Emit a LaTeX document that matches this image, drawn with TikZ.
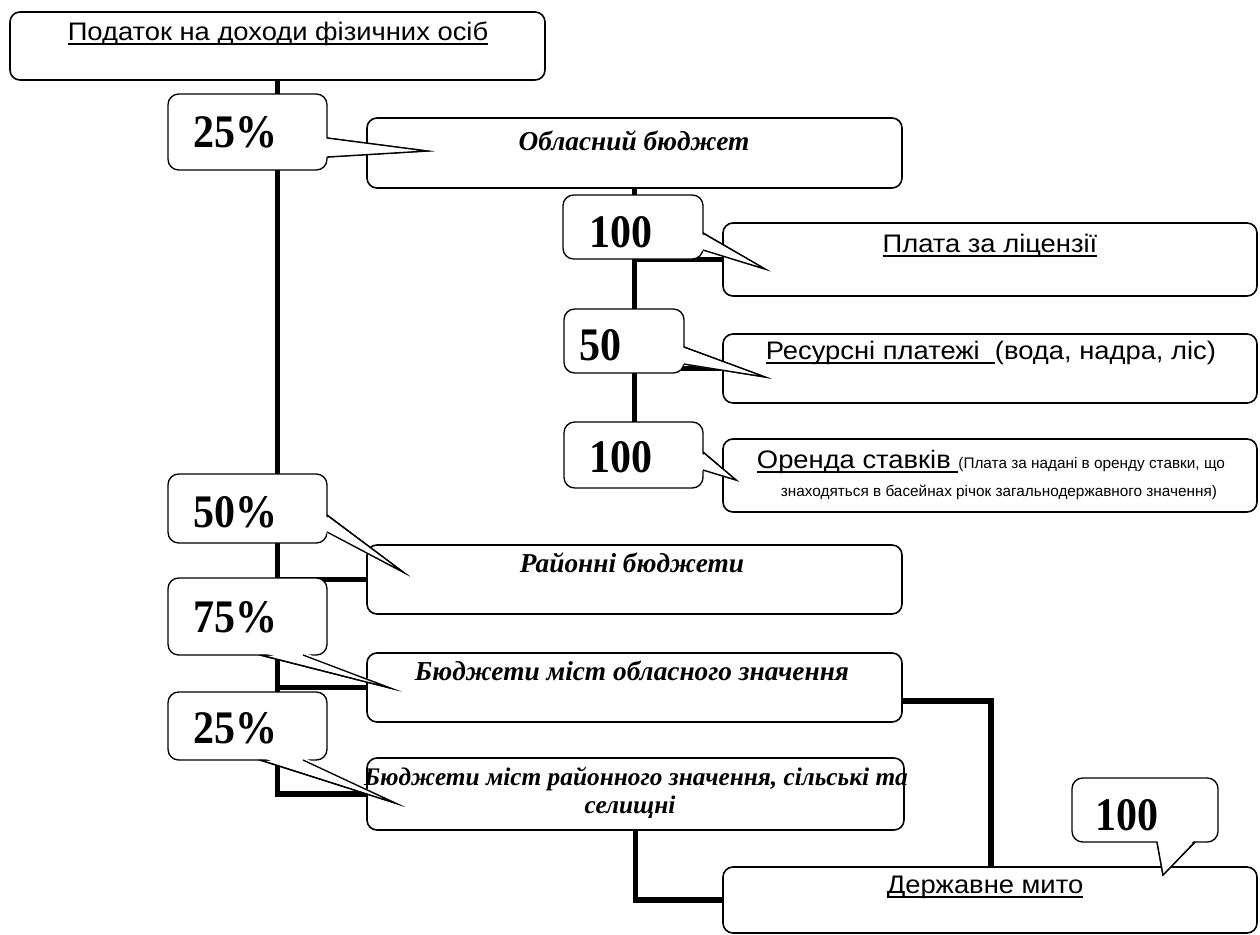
\documentclass[tikz,border=0pt]{standalone}
\usepackage{fontspec}
\setmainfont{Liberation Serif}
\setsansfont{Liberation Sans}
\newfontfamily\arialw{Liberation Sans}[FakeStretch=1.08]
\newfontfamily\numfont{Liberation Serif}[FakeStretch=0.9]
\usetikzlibrary{fit,calc}
\newcommand\myul[1]{\setbox0\hbox{#1}\rlap{\rule[-0.18em]{\wd0}{0.07em}}\box0}
\newcommand\callout[7]{%
  \filldraw[tailline, fill=white] #4 -- #6 -- #5 -- cycle;
  \node[cbox, fit={#2 #3}] (#1) {};
  \fill[white] ($#4+#7$) -- #6 -- ($#5+#7$) -- cycle;
  \draw[tailline] #4 -- #6 -- #5;
}
\begin{document}
\begin{tikzpicture}[x=0.75pt,y=-0.75pt,
  box/.style={draw, line width=1.2pt, rounded corners=7.5pt, fill=white, inner sep=0pt},
  cbox/.style={draw, line width=1pt, rounded corners=8pt, fill=white, inner sep=0pt},
  tailline/.style={line width=1pt, line join=miter, miter limit=20},
  conn/.style={line width=4pt},
  sans/.style={font=\arialw\fontsize{19}{22}\selectfont, inner sep=0pt, anchor=base},
  ital/.style={font=\bfseries\itshape\fontsize{20.5}{31}\selectfont, inner sep=0pt, anchor=base, align=center},
  num/.style={font=\numfont\bfseries\fontsize{35}{38}\selectfont, inner sep=0pt, anchor=base},
]
\useasboundingbox (0,0) rectangle (1260,935);
\fill[white] (0,0) rectangle (1260,935);

% boxes
\node[box, fit={(10,12)(545,80)}] (pod) {};
\node[box, fit={(367,118)(902,188)}] (obl) {};
\node[box, fit={(723,223)(1257,296)}] (lic) {};
\node[box, fit={(723,334)(1257,403)}] (res) {};
\node[box, fit={(723,439)(1257,512)}] (orn) {};
\node[box, fit={(367,545)(902,614)}] (ray) {};
\node[box, fit={(367,653)(902,722)}] (mob) {};
\node[box, fit={(367,758)(904,830)}] (mra) {};
\node[box, fit={(723,867)(1257,933)}] (dm) {};

% connectors
\coordinate (oblend) at (obl.south |- 0,440);
\draw[conn] (pod.south) |- (mra.west);
\draw[conn] (pod.south |- ray.west) -- (ray.west);
\draw[conn] (pod.south |- mob.west) -- (mob.west);
\draw[conn] (obl.south) -- (oblend);
\draw[conn] (obl.south |- lic.west) -- (lic.west);
\draw[conn] (obl.south |- res.west) -- (res.west);
\draw[conn] (mob.east |- 0,701) -| (dm.north -| 991,0);
\draw[conn] (mra.south) |- (dm.west);

% callouts
\callout{c1}{(168,94)}{(327,170)}{(327,138)}{(327,157)}{(427,151)}{(-3,0)}
\callout{c2}{(563,195)}{(703,259)}{(703,233)}{(703,250)}{(765,269)}{(-3,0)}
\callout{c3}{(564,309)}{(684,373)}{(684,347)}{(684,364)}{(765,377)}{(-3,0)}
\callout{c4}{(564,422)}{(703,488)}{(703,452)}{(703,470)}{(736,480)}{(-3,0)}
\callout{c5}{(168,474)}{(327,543)}{(327,515)}{(327,532)}{(403,572)}{(-3,0)}
\callout{c6}{(168,578)}{(327,655)}{(260,655)}{(303,655)}{(390,688)}{(0,-3)}
\callout{c7}{(168,692)}{(327,760)}{(260,760)}{(303,760)}{(395,803)}{(0,-3)}
\callout{c8}{(1072,778)}{(1218,842)}{(1157,842)}{(1195,842)}{(1163,875)}{(0,-3)}

% callout texts
\node[num] (t1) at (235,147) {25\%};
\node[num] (t2) at (621,247) {100};
\node[num] (t3) at (600,360) {50};
\node[num] (t4) at (621,472) {100};
\node[num] (t5) at (235,527) {50\%};
\node[num] (t6) at (235,632) {75\%};
\node[num] (t7) at (235,743) {25\%};
\node[num] (t8) at (1127,830) {100};

% box texts
\node[sans] (podt) at (278,40) {\myul{Податок на доходи фізичних осіб}};
\node[ital] (oblt) at (634,150) {Обласний бюджет};
\node[sans] (lict) at (990,252) {\myul{Плата за ліцензії}};
\node[sans] (rest) at (991,359) {\myul{Ресурсні платежі\ \ }(вода, надра, ліс)};
\node[sans] (ornt) at (991,468) {\myul{Оренда ставків\ }{\fontsize{11.5}{13}\sffamily\selectfont(Плата за надані в оренду ставки, що}};
\node[font=\sffamily\fontsize{11.5}{13}\selectfont, inner sep=0pt, anchor=base] (ornt2) at (999,496) {знаходяться в басейнах річок загальнодержавного значення)};
\node[ital] (rayt) at (632,572) {Районні бюджети};
\node[ital] (mobt) at (632,680) {Бюджети міст обласного значення};
\node[ital, font=\bfseries\itshape\fontsize{19}{28}\selectfont] (mrat) at (636,785) {Бюджети міст районного значення, сільські та};
\node[ital, font=\bfseries\itshape\fontsize{19}{28}\selectfont] (mrat2) at (630,813) {селищні};
\node[sans] (dmt) at (985,893) {\myul{Державне мито}};
\end{tikzpicture}
\end{document}
